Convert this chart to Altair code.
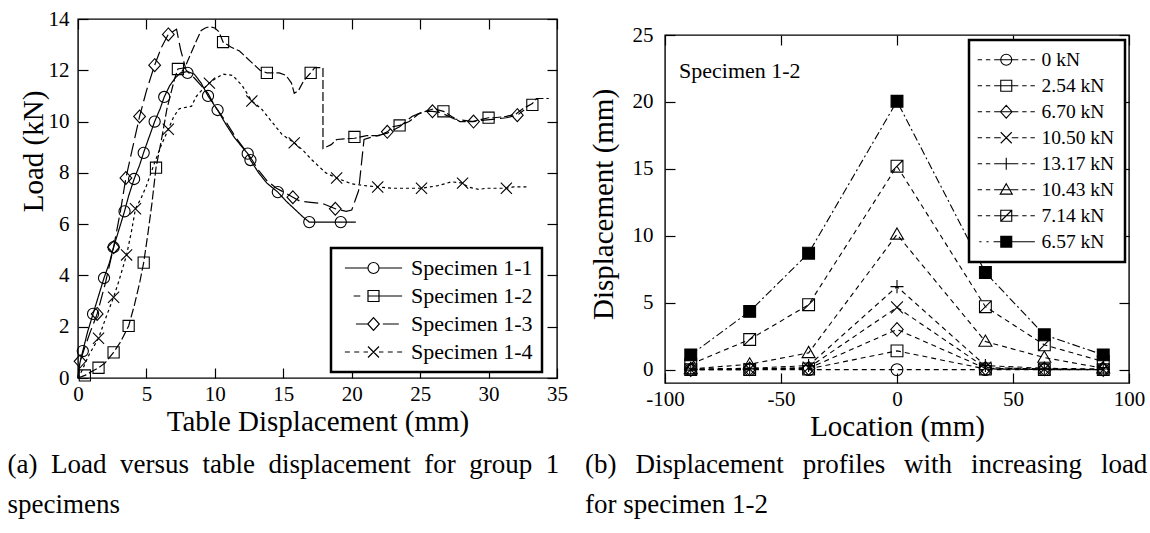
import altair as alt
import pandas as pd

FONT = "Liberation Serif, Tinos, Times New Roman, Nimbus Roman, DejaVu Serif, serif"

# ---------------- panel (a): load versus table displacement ----------------
specimens = ["Specimen 1-1", "Specimen 1-2", "Specimen 1-3", "Specimen 1-4"]

s11_x = [0, 0.1, 0.35, 0.7, 1.1, 1.5, 1.9, 2.3, 2.6, 3.0, 3.4, 3.7, 4.1, 4.5, 4.8, 5.2, 5.6, 6.0, 6.3, 6.7,
         7.1, 7.5, 8.0, 8.5, 9.0, 9.5, 10.2, 10.8, 11.4, 12.0, 12.4, 12.6, 13.2, 13.8, 14.6, 15.2, 15.8, 16.4,
         16.9, 19.2, 20.3]
s11_y = [0, 0.5, 1.05, 1.8, 2.5, 3.2, 3.9, 4.5, 5.1, 5.8, 6.5, 7.1, 7.76, 8.3, 8.8, 9.4, 10.0, 10.5, 10.96, 11.4,
         11.7, 11.9, 11.95, 11.85, 11.5, 11.0, 10.45, 9.9, 9.4, 9.0, 8.75, 8.5, 8.0, 7.6, 7.25, 6.9, 6.6, 6.3,
         6.08, 6.08, 6.08]
s11_mx = [0.35, 1.1, 1.9, 2.6, 3.4, 4.1, 4.8, 5.6, 6.3, 8.0, 9.5, 10.2, 12.4, 12.6, 14.6, 16.9, 19.2]
s11_my = [1.05, 2.5, 3.9, 5.1, 6.5, 7.76, 8.78, 10.0, 10.96, 11.9, 11.0, 10.45, 8.75, 8.5, 7.25, 6.08, 6.08]

s12_x = [0, 0.5, 1.0, 1.5, 2.0, 2.6, 3.1, 3.7, 4.1, 4.5, 4.8, 5.1, 5.4, 5.7, 6.1, 6.5, 7.05, 7.3, 7.8, 8.2,
         8.65, 9.0, 9.3, 9.6, 10.0, 10.3, 10.6, 11.2, 11.8, 12.7, 13.3, 13.8, 14.7, 15.2, 15.6, 15.8, 16.1, 16.5,
         17.0, 17.3, 17.9, 17.9, 18.5, 18.9, 20.2, 21.1, 22.0, 22.6, 23.0, 23.5, 24.2, 24.9, 25.4, 26.0, 26.7,
         27.3, 27.9, 28.8, 30.0, 30.4, 31.3, 32.0, 32.5, 33.2, 33.5, 34.4]
s12_y = [0, 0.1, 0.25, 0.4, 0.6, 1.0, 1.4, 2.03, 2.8, 3.7, 4.5, 5.6, 6.8, 8.2, 9.3, 10.5, 11.65, 12.05, 12.1, 12.6,
         13.15, 13.55, 13.65, 13.7, 13.65, 13.5, 13.1, 12.9, 12.75, 12.3, 12.0, 11.9, 11.9, 11.8, 11.5, 11.1, 11.2,
         11.6, 11.9, 12.1, 12.1, 8.95, 9.1, 9.3, 9.35, 9.45, 9.45, 9.6, 9.8, 9.85, 10.0, 10.3, 10.4, 10.5, 10.4,
         10.2, 10.0, 10.0, 10.15, 10.15, 10.2, 10.3, 10.5, 10.7, 10.9, 10.9]
s12_mx = [0.5, 1.5, 2.6, 3.7, 4.8, 5.7, 7.3, 10.6, 13.8, 17.0, 20.2, 23.5, 26.7, 30.0, 33.2]
s12_my = [0.1, 0.4, 1.0, 2.03, 4.5, 8.2, 12.05, 13.1, 11.9, 11.9, 9.4, 9.85, 10.4, 10.15, 10.65]

s13_x = [0, 0.15, 0.5, 0.9, 1.4, 2.0, 2.6, 3.1, 3.5, 4.0, 4.5, 5.0, 5.6, 6.1, 6.6, 7.2, 7.5, 7.9, 8.5, 9.0,
         9.5, 10.0, 10.8, 11.5, 12.2, 12.6, 13.2, 13.8, 14.5, 15.2, 15.7, 16.2, 17.0, 17.9, 18.8, 19.6, 20.0,
         20.5, 20.9, 21.5, 22.6, 23.5, 24.4, 25.3, 25.9, 26.5, 27.5, 28.9, 29.5, 30.5, 31.3, 32.1, 32.6]
s13_y = [0, 0.65, 1.2, 1.8, 2.5, 3.7, 5.1, 6.5, 7.8, 9.0, 10.2, 11.2, 12.2, 12.9, 13.4, 13.6, 12.8, 12.0, 11.7,
         11.4, 11.1, 10.6, 10.0, 9.4, 8.9, 8.6, 8.1, 7.7, 7.4, 7.2, 7.05, 6.9, 6.85, 6.8, 6.6, 6.5, 6.55, 7.3,
         9.3, 9.4, 9.55, 9.8, 10.2, 10.4, 10.4, 10.35, 10.1, 10.0, 10.05, 10.1, 10.15, 10.25, 10.45]
s13_mx = [0.15, 1.4, 2.6, 3.5, 4.5, 5.6, 6.6, 15.7, 18.8, 22.6, 25.9, 28.9, 32.1]
s13_my = [0.65, 2.5, 5.1, 7.8, 10.2, 12.2, 13.4, 7.05, 6.6, 9.6, 10.4, 10.0, 10.25]

s14_x = [0, 0.3, 0.8, 1.5, 2.0, 2.6, 3.0, 3.55, 3.9, 4.2, 4.6, 5.0, 5.6, 6.1, 6.6, 7.0, 7.4, 8.3, 8.6, 9.0,
         9.6, 10.1, 10.6, 11.3, 12.0, 12.7, 13.4, 14.0, 14.9, 15.8, 16.4, 17.1, 18.1, 18.9, 20.0, 21.0, 21.9,
         23.0, 25.1, 26.3, 27.3, 28.1, 28.5, 29.3, 29.8, 31.3, 31.8, 32.9]
s14_y = [0, 0.3, 0.9, 1.55, 2.3, 3.15, 3.8, 4.8, 5.7, 6.6, 7.0, 7.5, 8.4, 9.1, 9.7, 10.2, 10.5, 10.6, 10.95, 11.2,
         11.5, 11.7, 11.85, 11.8, 11.4, 10.8, 10.5, 10.1, 9.5, 9.17, 8.9, 8.5, 8.0, 7.8, 7.57, 7.5, 7.45, 7.4,
         7.4, 7.5, 7.65, 7.6, 7.45, 7.35, 7.4, 7.4, 7.45, 7.45]
s14_mx = [1.5, 2.6, 3.55, 4.2, 6.6, 9.6, 12.7, 15.8, 18.9, 21.9, 25.1, 28.1, 31.3]
s14_my = [1.55, 3.15, 4.8, 6.6, 9.7, 11.5, 10.8, 9.17, 7.8, 7.45, 7.4, 7.6, 7.4]

a_xticks = [0, 5, 10, 15, 20, 25, 30, 35]
a_yticks = [0, 2, 4, 6, 8, 10, 12, 14]

# ---------------- panel (b): displacement profiles ----------------
locations = [-88.9, -63.5, -38.1, 0, 38.1, 63.5, 88.9]
loads = ["0 kN", "2.54 kN", "6.70 kN", "10.50 kN", "13.17 kN", "10.43 kN", "7.14 kN", "6.57 kN"]
d_000 = [0, 0, 0, 0, 0, 0, 0]
d_254 = [0, 0, 0.05, 1.4, 0.05, 0, 0]
d_670 = [0, 0.05, 0.1, 3.0, 0.1, 0.05, 0]
d_1050 = [0, 0.05, 0.15, 4.65, 0.15, 0.05, 0]
d_1317 = [0.05, 0.1, 0.3, 6.2, 0.3, 0.1, 0.05]
d_1043 = [0.05, 0.4, 1.25, 10.1, 2.1, 0.9, 0.1]
d_714 = [0.4, 2.25, 4.85, 15.2, 4.7, 1.85, 0.6]
d_657 = [1.1, 4.35, 8.7, 20.05, 7.25, 2.6, 1.1]
profiles = [d_000, d_254, d_670, d_1050, d_1317, d_1043, d_714, d_657]

b_xticks = [-100, -50, 0, 50, 100]
b_yticks = [0, 5, 10, 15, 20, 25]
note_text = "Specimen 1-2"

caption_a = ["(a)\u2002Load\u2002versus\u2002table\u2002displacement\u2002for\u2002group\u20021", "specimens"]
caption_b = ["(b)\u2002\u2009Displacement\u2002\u2009profiles\u2002\u2009with\u2002\u2009increasing\u2002\u2009load",
             "for specimen 1-2"]

# ---------------- tables ----------------
def frame(name, xs, ys, key):
    return pd.DataFrame({key: [name] * len(xs), "x": xs, "y": ys, "i": list(range(len(xs)))})

lines_a = pd.concat([frame(specimens[0], s11_x, s11_y, "s"), frame(specimens[1], s12_x, s12_y, "s"),
                     frame(specimens[2], s13_x, s13_y, "s"), frame(specimens[3], s14_x, s14_y, "s")],
                    ignore_index=True)
marks_a = pd.concat([frame(specimens[0], s11_mx, s11_my, "s"), frame(specimens[1], s12_mx, s12_my, "s"),
                     frame(specimens[2], s13_mx, s13_my, "s"), frame(specimens[3], s14_mx, s14_my, "s")],
                    ignore_index=True)
prof_b = pd.concat([frame(l, locations, d, "load") for l, d in zip(loads, profiles)], ignore_index=True)

# ---------------- symbols (unit box -1..1) ----------------
P_CIRCLE = "M1,0A1,1,0,1,1,-1,0A1,1,0,1,1,1,0Z"
P_SQUARE = "M-1,-1L1,-1L1,1L-1,1Z"
P_DIAMOND = "M0,-1.15L1.05,0L0,1.15L-1.05,0Z"
P_X = "M-1,-1L1,1M-1,1L1,-1"
P_PLUS = "M-1.1,0L1.1,0M0,-1.1L0,1.1"
P_TRI = "M0,-1.1L1.1,0.8L-1.1,0.8Z"
P_SLASH = P_SQUARE + "M-1,1L1,-1"
P_SOLIDSQ = P_SQUARE + "".join("M-1,%.1fL1,%.1f" % (v / 10, v / 10) for v in range(-8, 9, 2))
THROUGH = "M-1,0L1,0"
DL = "M-5.2,0L-4.4,0M-3.7,0L-2.9,0M-2.2,0L-1,0"
DR = "M1,0L2.2,0M2.9,0L3.7,0M4.4,0L5.2,0"

marker_a = [P_CIRCLE, P_SQUARE, P_DIAMOND, P_X]
legend_a = [
    "M-5.2,0L-1,0M1,0L5.2,0" + P_CIRCLE,
    "M-3.6,0L-2.4,0M-1,0L5.2,0" + P_SQUARE,
    "M-3.2,0L-1.05,0M1.7,0L4.6,0" + P_DIAMOND,
    "M-5.2,0L-4.3,0M-3.5,0L-2.6,0M-1.8,0L-1,0M1,0L1.8,0M2.6,0L3.5,0M4.3,0L5.2,0" + P_X,
]
dash_a = [[1, 0], [9, 3], [14, 5], [3, 3]]

marker_b = [P_CIRCLE, P_SQUARE, P_DIAMOND, P_X, P_PLUS, P_TRI, P_SLASH, P_SQUARE]
fill_b = ["transparent"] * 7 + ["black"]
legend_b = [
    DL + P_CIRCLE + THROUGH + DR,
    DL + P_SQUARE + THROUGH + DR,
    DL + P_DIAMOND + THROUGH + DR,
    DL + P_X + DR,
    DL + P_PLUS + DR,
    DL + P_TRI + THROUGH + DR,
    DL + P_SLASH + THROUGH + DR,
    "M-4.9,0L-4.5,0M-3.6,0L-3.2,0M-2.3,0L-1,0" + P_SOLIDSQ + "M1,0L5.2,0",
]
dash_b = [[5, 4]] * 7 + [[8, 3, 2, 3]]

LBL = "'' + datum.value"


def ax_bottom(values, title, tpad):
    return alt.Axis(orient="bottom", values=values, title=title, offset=-10, tickSize=10, labelPadding=5,
                    titlePadding=tpad, labelExpr=LBL, labelFlush=False, labelOverlap=False)


def ax_left(values, title, lpad, tpad, ty):
    return alt.Axis(orient="left", values=values, title=title, offset=-10, tickSize=10, labelPadding=lpad,
                    titlePadding=tpad, titleY=ty, labelExpr=LBL, labelFlush=False, labelOverlap=False)


def ax_top(values):
    return alt.Axis(orient="top", values=values, title=None, labels=False, offset=-10, tickSize=10)


def ax_right(values):
    return alt.Axis(orient="right", values=values, title=None, labels=False, offset=-10, tickSize=10)


# ---------------- panel (a) chart ----------------
xs_a = alt.Scale(domain=[0, 35], nice=False, zero=False)
ys_a = alt.Scale(domain=[0, 14], nice=False, zero=False)

a_lines = alt.Chart(lines_a).mark_line(color="black", strokeWidth=1.2).encode(
    x=alt.X("x:Q", scale=xs_a, axis=ax_bottom(a_xticks, "Table Displacement (mm)", 3)),
    y=alt.Y("y:Q", scale=ys_a, axis=ax_left(a_yticks, "Load (kN)", 9, 0, 132)),
    strokeDash=alt.StrokeDash("s:N", scale=alt.Scale(domain=specimens, range=dash_a), legend=None),
    order=alt.Order("i:Q"),
)
a_marks = alt.Chart(marks_a).mark_point(filled=False, color="black", opacity=1, size=125, strokeWidth=1.1).encode(
    x=alt.X("x:Q", scale=xs_a, axis=ax_top(a_xticks)),
    y=alt.Y("y:Q", scale=ys_a, axis=ax_right(a_yticks)),
    shape=alt.Shape("s:N", scale=alt.Scale(domain=specimens, range=marker_a), legend=None),
)
a_legend = alt.Chart(marks_a).mark_point(filled=False, color="black", opacity=0, size=121).encode(
    x=alt.X("x:Q", scale=xs_a, axis=None),
    y=alt.Y("y:Q", scale=ys_a, axis=None),
    shape=alt.Shape("s:N", scale=alt.Scale(domain=specimens, range=legend_a),
                    legend=alt.Legend(title=None, orient="none", legendX=253, legendY=229, labelFont=FONT,
                                      labelFontSize=22, labelColor="black", symbolSize=121,
                                      symbolStrokeWidth=1.2, symbolStrokeColor="black", symbolOpacity=1,
                                      symbolOffset=22.5, labelOffset=26.5, padding=9, rowPadding=6,
                                      strokeColor="black", fillColor="white")),
)
panel_a = alt.layer(a_lines, a_marks, a_legend).resolve_scale(shape="independent").resolve_axis(
    x="independent", y="independent").properties(
    width=479, height=359,
    title=alt.TitleParams(caption_a, orient="bottom", anchor="start", frame="bounds", font=FONT, fontSize=27,
                          fontWeight="normal", color="black", lineHeight=40, offset=16, dx=-11.5))

# ---------------- panel (b) chart ----------------
xs_b = alt.Scale(domain=[-100, 100], nice=False, zero=False)
ys_b = alt.Scale(domain=[-1, 25], nice=False, zero=False)

b_lines = alt.Chart(prof_b).mark_line(color="black", strokeWidth=1.1).encode(
    x=alt.X("x:Q", scale=xs_b, axis=ax_bottom(b_xticks, "Location (mm)", 3)),
    y=alt.Y("y:Q", scale=ys_b, axis=ax_left(b_yticks, "Displacement (mm)", 12, 14, 169)),
    strokeDash=alt.StrokeDash("load:N", scale=alt.Scale(domain=loads, range=dash_b), legend=None),
    order=alt.Order("i:Q"),
)
b_marks = alt.Chart(prof_b).mark_point(filled=True, stroke="black", opacity=1, size=140, strokeWidth=1.1).encode(
    x=alt.X("x:Q", scale=xs_b, axis=ax_top(b_xticks)),
    y=alt.Y("y:Q", scale=ys_b, axis=ax_right(b_yticks)),
    shape=alt.Shape("load:N", scale=alt.Scale(domain=loads, range=marker_b), legend=None),
    fill=alt.Fill("load:N", scale=alt.Scale(domain=loads, range=fill_b), legend=None),
)
b_legend = alt.Chart(prof_b).mark_point(filled=False, color="black", opacity=0, size=121).encode(
    x=alt.X("x:Q", scale=xs_b, axis=None),
    y=alt.Y("y:Q", scale=ys_b, axis=None),
    shape=alt.Shape("load:N", scale=alt.Scale(domain=loads, range=legend_b),
                    legend=alt.Legend(title=None, orient="none", legendX=304, legendY=5, labelFont=FONT,
                                      labelFontSize=19.5, labelColor="black", symbolSize=121,
                                      symbolStrokeWidth=1.1, symbolStrokeColor="black", symbolOpacity=1,
                                      symbolOffset=17.5, labelOffset=25.5, padding=10, rowPadding=5,
                                      strokeColor="black", fillColor="white")),
)
b_note = alt.Chart(pd.DataFrame({"t": [note_text]})).mark_text(
    align="left", baseline="middle", font=FONT, fontSize=22, color="black").encode(
    x=alt.value(14), y=alt.value(36), text="t:N")

panel_b = alt.layer(b_lines, b_marks, b_legend, b_note).resolve_scale(
    shape="independent").resolve_axis(x="independent", y="independent").properties(
    width=464, height=348,
    title=alt.TitleParams(caption_b, orient="bottom", anchor="start", frame="bounds", font=FONT, fontSize=27,
                          fontWeight="normal", color="black", lineHeight=40, offset=11, dx=-4))

spacer = alt.Chart(pd.DataFrame({"v": [0]})).mark_point(opacity=0).encode(
    x=alt.value(0), y=alt.value(0)).properties(width=5, height=1, view=alt.ViewBackground(stroke="transparent"))

right_col = alt.vconcat(spacer, panel_b, spacing=0).resolve_scale(strokeDash="independent")

chart = alt.hconcat(panel_a, right_col, spacing=15).resolve_scale(strokeDash="independent").properties(
    padding={"left": 6, "top": 7, "right": 1, "bottom": 1}
).configure_view(stroke="black", strokeWidth=1.4).configure_axis(
    grid=False, domain=False, tickColor="black", tickWidth=1.2, labelFont=FONT, labelFontSize=21,
    labelColor="black", titleFont=FONT, titleFontSize=29, titleFontWeight="normal", titleColor="black"
).configure_legend(strokeWidth=2.5)

chart.save("out.html", embed_options={"renderer": "svg", "actions": False})
